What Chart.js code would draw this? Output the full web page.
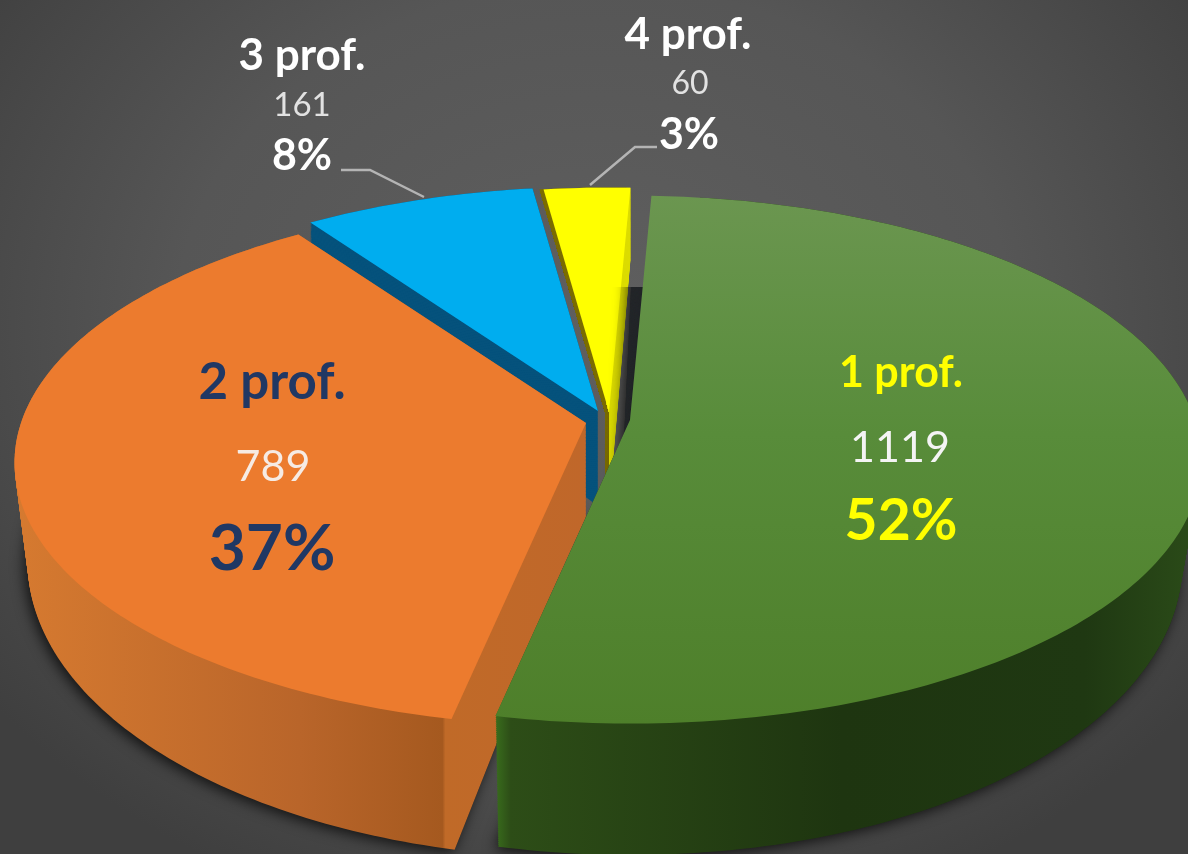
<!DOCTYPE html>
<html>
<head>
<meta charset="utf-8">
<title>prof.</title>
<script src="https://cdn.jsdelivr.net/npm/chart.js@4"></script>
<style>
html, body { margin: 0; padding: 0; }
body { width: 1188px; height: 854px; overflow: hidden; background: radial-gradient(ellipse 760px 620px at 50% 38%, #5f5f5f 0%, #565656 55%, #3f3f3f 100%); }
canvas { display: block; }
</style>
</head>
<body>
<canvas id="myChart" width="1188" height="854"></canvas>
<script>
const categories = ['1 prof.', '2 prof.', '3 prof.', '4 prof.'];
const counts = [1119, 789, 161, 60];
const percents = ['52%', '37%', '8%', '3%'];

const topColors = ['#56883a', '#ec7b2e', '#00adef', '#ffff00'];

// where each pulled out slice has its tip on the picture
const sliceTips = [[630, 420], [586, 423], [598, 411], [609, 412]];
const wallLean = [19, 0, 0, 0];
const wallNarrow = [0.02, 0.023, 0, 0];
const rimX = 565, rimY = 258, persp = 0.15, wallDepth = 95;

// label lines: x, y, font, colour for name, count, percent
const labelStyles = [
    [[901, 373, 'bold 43px Lato', '#ffff00'], [900, 448, '43px Lato', '#f4f4f4'], [901, 522, 'bold 57px Lato', '#ffff00']],
    [[272, 383, 'bold 51px Lato', '#203864'], [273, 467, '43px Lato', '#f6ebe4'], [272, 549, 'bold 64px Lato', '#203864']],
    [[302, 56, 'bold 44px Lato', '#ffffff'], [302, 105, '33px Lato', '#e2e2e2'], [302, 156, 'bold 43px Lato', '#ffffff']],
    [[688, 35, 'bold 44px Lato', '#ffffff'], [690, 84, '32px Lato', '#e2e2e2'], [689, 135, 'bold 43px Lato', '#ffffff']]
];
const leaderLines = [null, null, [[341, 170], [370, 170], [424, 197]], [[657, 147], [635, 147], [590, 185]]];

function project(i, tip, xn, yn, z) {
    const w = 1 - persp * yn;
    return [
        tip[0] + rimX * xn / w * (1 - z * wallNarrow[i]) - z * wallLean[i] * (1 - yn) / 2,
        tip[1] + rimY * yn / w + z * wallDepth / (w * w)
    ];
}

// context that bends the arc path of the element on to the tilted disc
function warpedContext(ctx, el, i, tip, z, paint) {
    const toScreen = function (px, py) {
        return project(i, tip, (px - el.x) / el.outerRadius, (py - el.y) / el.outerRadius, z);
    };
    const own = {
        moveTo: function (x, y) { const p = toScreen(x, y); ctx.moveTo(p[0], p[1]); },
        lineTo: function (x, y) { const p = toScreen(x, y); ctx.lineTo(p[0], p[1]); },
        arc: function (cx, cy, r, a0, a1) {
            const steps = Math.max(2, Math.ceil(Math.abs(a1 - a0) * 60));
            for (let n = 0; n <= steps; n++) {
                const a = a0 + (a1 - a0) * n / steps;
                const p = toScreen(cx + Math.cos(a) * r, cy + Math.sin(a) * r);
                ctx.lineTo(p[0], p[1]);
            }
        }
    };
    return new Proxy(ctx, {
        get: function (t, k) {
            if (own[k]) return own[k];
            const v = t[k];
            return typeof v === 'function' ? v.bind(t) : v;
        },
        set: function (t, k, v) {
            t[k] = k === 'fillStyle' ? paint : v;
            return true;
        }
    });
}

function sideGradient(ctx, x0, x1, stops) {
    const g = ctx.createLinearGradient(x0, 0, x1, 0);
    stops.forEach(function (s) { g.addColorStop(s[0], s[1]); });
    return g;
}

function wallStack(ctx, el, i, tip, paint) {
    for (let z = 1; z > 0; z -= 1 / 70) {
        el.draw(warpedContext(ctx, el, i, tip, z, paint));
    }
}

// wall of the thin slice: only what lies right of its left cut edge shows
function rightOfCut(ctx, el, i, tip, paint) {
    const xn = Math.cos(el.startAngle), yn = Math.sin(el.startAngle);
    const rim = project(i, tip, xn, yn, 0);
    const low = project(i, tip, 0, 0, 1);
    ctx.save();
    ctx.beginPath();
    ctx.moveTo(rim[0], rim[1]);
    ctx.lineTo(tip[0], tip[1]);
    ctx.lineTo(low[0], low[1]);
    ctx.lineTo(800, low[1]);
    ctx.lineTo(800, 0);
    ctx.lineTo(rim[0], 0);
    ctx.closePath();
    ctx.clip();
    wallStack(ctx, el, i, tip, paint);
    ctx.restore();
}

const tiltedPie = {
    id: 'tiltedPie',
    beforeDatasetDraw: function () { return false; },
    afterDatasetsDraw: function (chart) {
        const ctx = chart.ctx;
        const arcs = chart.getDatasetMeta(0).data;

        const walls = [
            sideGradient(ctx, 497, 1188, [[0, '#386a1c'], [0.02, '#2d4d17'], [0.5, '#1e3510'], [0.85, '#1f3812'], [1, '#2a4a18']]),
            sideGradient(ctx, 15, 585, [[0, '#d67a30'], [0.5, '#b9652a'], [0.75, '#a5591f'], [0.755, '#c06a28'], [1, '#c0672a']]),
            '#05527c',
            '#dcdc00'
        ];
        const greenTop = ctx.createLinearGradient(0, 195, 0, 725);
        greenTop.addColorStop(0, '#6b9650');
        greenTop.addColorStop(0.45, '#588c3a');
        greenTop.addColorStop(1, '#4e7f2a');
        const tops = [greenTop, topColors[1], topColors[2], topColors[3]];

        [2, 3, 1, 0].forEach(function (i) {
            const el = arcs[i];
            const tip = sliceTips[i];

            if (i < 2) {
                // soft shadow under the bottom of the big slices
                ctx.save();
                ctx.beginPath();
                ctx.rect(0, 287, 1188, 567);
                ctx.clip();
                ctx.shadowColor = 'rgba(0,0,0,0.75)';
                ctx.shadowBlur = 14;
                ctx.shadowOffsetX = -3;
                ctx.shadowOffsetY = 3;
                el.draw(warpedContext(ctx, el, i, tip, 1, '#222222'));
                ctx.restore();
            }

            if (i === 0) {
                // outer wall, then the cut face that shows dark in the gap
                ctx.save();
                ctx.beginPath();
                ctx.rect(700, 0, 488, 854);
                ctx.rect(0, 600, 700, 254);
                ctx.clip();
                wallStack(ctx, el, i, tip, walls[i]);
                ctx.restore();
                ctx.save();
                ctx.beginPath();
                ctx.rect(0, 287, 700, 313);
                ctx.clip();
                wallStack(ctx, el, i, tip, '#24272a');
                ctx.restore();
            } else if (i === 3) {
                rightOfCut(ctx, el, i, [tip[0] - 4, tip[1]], '#7a6c00');
                rightOfCut(ctx, el, i, tip, walls[i]);
                el.draw(warpedContext(ctx, el, i, [tip[0] - 4, tip[1]], 0, '#7a6c00'));
            } else {
                wallStack(ctx, el, i, tip, walls[i]);
            }

            el.draw(warpedContext(ctx, el, i, tip, 0, tops[i]));
        });

        // leader lines
        ctx.save();
        ctx.strokeStyle = '#b4b4b4';
        ctx.lineWidth = 2.5;
        leaderLines.forEach(function (line) {
            if (!line) return;
            ctx.beginPath();
            line.forEach(function (p, n) {
                if (n === 0) ctx.moveTo(p[0], p[1]); else ctx.lineTo(p[0], p[1]);
            });
            ctx.stroke();
        });

        // labels
        ctx.textAlign = 'center';
        ctx.textBaseline = 'middle';
        categories.forEach(function (name, i) {
            [name, String(counts[i]), percents[i]].forEach(function (text, n) {
                const s = labelStyles[i][n];
                ctx.font = s[2];
                ctx.fillStyle = s[3];
                ctx.fillText(text, s[0], s[1]);
            });
        });
        ctx.restore();
    }
};

const myChart = new Chart(document.getElementById('myChart').getContext('2d'), {
    type: 'pie',
    data: {
        labels: categories,
        datasets: [{
            data: counts,
            backgroundColor: topColors,
            borderWidth: 0
        }]
    },
    options: {
        responsive: false,
        animation: false,
        rotation: 2.5,
        events: [],
        layout: { padding: 0 },
        plugins: {
            legend: { display: false },
            tooltip: { enabled: false }
        }
    },
    plugins: [tiltedPie]
});
</script>
</body>
</html>
